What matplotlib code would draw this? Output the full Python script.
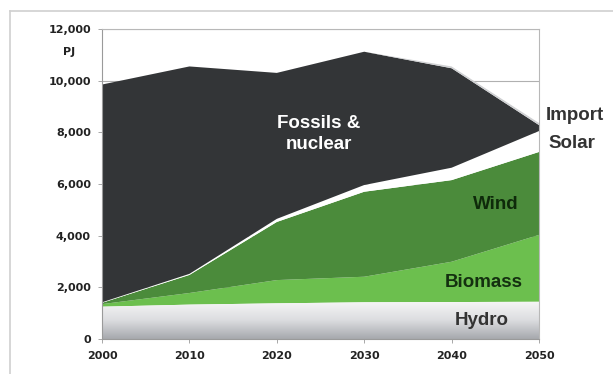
import numpy as np
import matplotlib
matplotlib.use('Agg')
import matplotlib.pyplot as plt
from matplotlib.lines import Line2D
from matplotlib.colors import LinearSegmentedColormap

plt.rcParams['font.family'] = ['Liberation Sans', 'DejaVu Sans']

# data (PJ)
years = [2000, 2010, 2020, 2030, 2040, 2050]
hydro = [1250, 1330, 1380, 1420, 1430, 1440]
biomass = [100, 450, 900, 990, 1560, 2590]
wind = [50, 700, 2250, 3290, 3160, 3210]
solar = [20, 40, 120, 260, 480, 810]
fossils = [8430, 8030, 5650, 5160, 3850, 230]
imports = [0, 0, 0, 0, 70, 80]

yticks = [0, 2000, 4000, 6000, 8000, 10000, 12000]
ytick_labels = ['0', '2,000', '4,000', '6,000', '8,000', '10,000', '12,000']

fig = plt.figure(figsize=(6.13, 3.74), dpi=100)
ax = fig.add_axes([0.1664, 0.0936, 0.7129, 0.8289])

colors = ['none', '#6cbf4e', '#4b8b3b', '#ffffff', '#333537', '#cfd0d2']
polys = ax.stackplot(years, hydro, biomass, wind, solar, fossils, imports,
                     colors=colors, linewidth=0, zorder=2)

# hydro gets a vertical white-to-grey gradient
cmap = LinearSegmentedColormap.from_list('hydro', ['#a6a8ad', '#dcdde0', '#f6f6f6'])
grad = np.linspace(0, 1, 256).reshape(-1, 1)
im = ax.imshow(grad, cmap=cmap, aspect='auto', origin='lower',
               extent=[years[0], years[-1], 0, max(hydro)], zorder=2)
im.set_clip_path(polys[0].get_paths()[0], ax.transData)

ax.set_xlim(2000, 2050)
ax.set_ylim(0, 12000)
ax.set_xticks(years)
ax.set_xticklabels([str(y) for y in years])
ax.set_yticks(yticks)
ax.set_yticklabels(ytick_labels)
ax.yaxis.grid(True, color='#b0b0b0', linewidth=0.8, zorder=0)
ax.set_axisbelow(True)
for s in ['top', 'right']:
    ax.spines[s].set_color('#b8b8b8')
    ax.spines[s].set_linewidth(0.8)
for s in ['left', 'bottom']:
    ax.spines[s].set_color('#9a9a9a')
    ax.spines[s].set_linewidth(0.8)
ax.tick_params(axis='both', colors='#9a9a9a', length=3, width=0.6,
               labelsize=8, labelcolor='#222222')
for lbl in ax.get_xticklabels() + ax.get_yticklabels():
    lbl.set_fontweight('bold')
    lbl.set_family('DejaVu Sans')
ax.tick_params(axis='x', pad=6)
ax.tick_params(axis='y', pad=5)

# unit label below top tick
fig.text(69 / 613, 1 - 52 / 374, 'PJ', fontsize=8, fontweight='bold',
         family='DejaVu Sans', color='#222222', ha='center', va='center')

# area labels
ax.text(2024.8, 7950, 'Fossils &\nnuclear', color='white', fontsize=13.5,
        fontweight='bold', ha='center', va='center', linespacing=1.3)
ax.text(2045.0, 5190, 'Wind', color='#0e2a0a', fontsize=13.5,
        fontweight='bold', ha='center', va='center')
ax.text(2043.7, 2200, 'Biomass', color='#143010', fontsize=13.5,
        fontweight='bold', ha='center', va='center')
ax.text(2043.5, 735, 'Hydro', color='#333333', fontsize=13.5,
        fontweight='bold', ha='center', va='center')
fig.text(575 / 613, 1 - 115 / 374, 'Import', color='#333333', fontsize=13.5,
         fontweight='bold', ha='center', va='center')
fig.text(572 / 613, 1 - 143 / 374, 'Solar', color='#333333', fontsize=13.5,
         fontweight='bold', ha='center', va='center')

# light outer frame (top and left)
fig.add_artist(Line2D([10 / 613, 1], [1 - 11 / 374] * 2, color='#d0d0d0', linewidth=1.2))
fig.add_artist(Line2D([10 / 613] * 2, [0, 1 - 11 / 374], color='#d0d0d0', linewidth=1.2))

fig.savefig('out.png', dpi=100)
